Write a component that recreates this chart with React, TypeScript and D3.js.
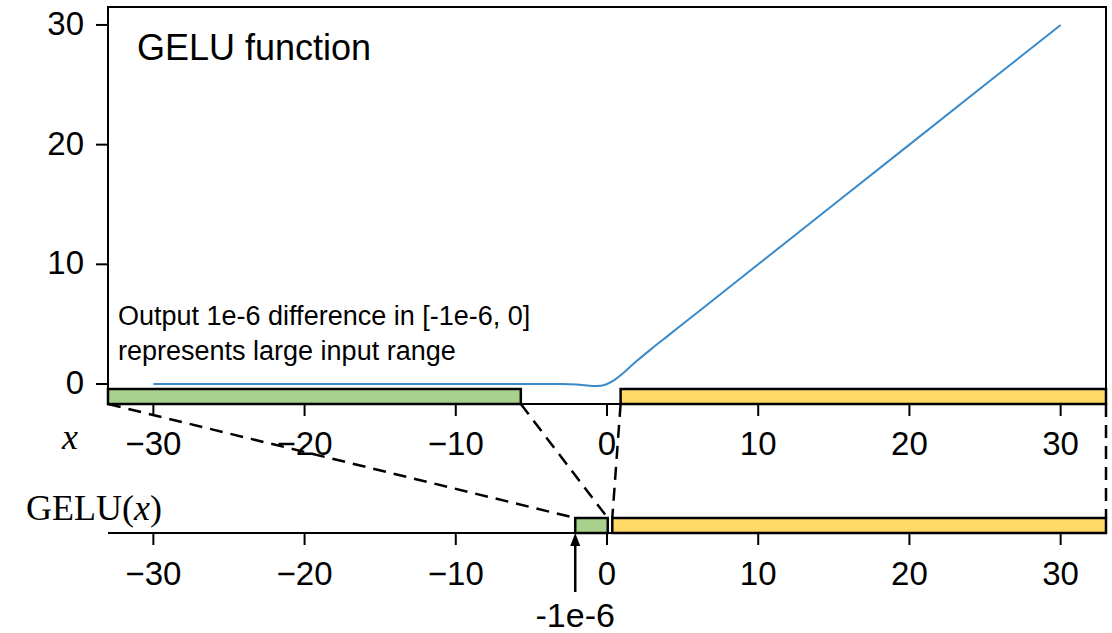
import * as d3 from 'd3'

// GELU curve
const curveX = [-30, -20, -10, -6, -4, -3, -2, -1.5, -1, -0.75, -0.5, -0.25, 0, 0.5, 1, 1.5, 2, 3, 4, 6, 10, 20, 30]
const curveY = [0, 0, 0, 0, -0.0001, -0.004, -0.045, -0.1, -0.159, -0.17, -0.154, -0.1, 0, 0.346, 0.841, 1.4, 1.955, 3, 4, 6, 10, 20, 30]

const xTicks = [-30, -20, -10, 0, 10, 20, 30]
const yTicks = [0, 10, 20, 30]

// input ranges (top) and the output ranges they map to (bottom)
const inputRanges = [[-33, -5.7], [0.9, 33]]
const outputRanges = [[-2.1, 0.05], [0.35, 33]]
const rangeColors = ['#a9d18e', '#ffd966']

const W = 1112
const H = 633
const left = 108
const right = 1106
const top = 7
const bottom = 404
const axis2Y = 533
const boxH = 15

const sans = '"Liberation Sans", Arial, Helvetica, sans-serif'
const serif = '"Liberation Serif", "Times New Roman", serif'

const fmt = (v: number) => (v < 0 ? '\u2212' + Math.abs(v) : String(v))

export default function App() {
  const x = d3.scaleLinear().domain([-33, 33]).range([left, right])
  const y = d3.scaleLinear().domain([-1.67, 31.5]).range([bottom, top])

  const pts: [number, number][] = curveX.map((v, i) => [v, curveY[i]])
  const line = d3.line<[number, number]>()
    .x(d => x(d[0]))
    .y(d => y(d[1]))
    .curve(d3.curveMonotoneX)

  const arrowX = x(outputRanges[0][0])

  return (
    <svg width={W} height={H} style={{position: 'absolute', left: 0, top: 0, background: '#fff'}}>
      {/* upper panel */}
      <path d={line(pts) || ''} fill="none" stroke="#3a8ac9" strokeWidth={2} />
      <rect x={left} y={top} width={right - left} height={bottom - top} fill="none" stroke="#000" strokeWidth={2} />
      {yTicks.map(t => (
        <g key={'y' + t}>
          <line x1={left - 12} x2={left} y1={y(t)} y2={y(t)} stroke="#000" strokeWidth={2} />
          <text x={84} y={y(t) + 10} textAnchor="end" fontFamily={sans} fontSize={33}>{t}</text>
        </g>
      ))}
      {xTicks.map(t => (
        <g key={'x' + t}>
          <line x1={x(t)} x2={x(t)} y1={bottom} y2={bottom + 12} stroke="#000" strokeWidth={2} />
          <text x={x(t)} y={455} textAnchor="middle" fontFamily={sans} fontSize={33}>{fmt(t)}</text>
        </g>
      ))}
      <text x={137} y={60} fontFamily={sans} fontSize={36}>GELU function</text>
      <text x={118} y={325} fontFamily={sans} fontSize={27}>Output 1e-6 difference in [-1e-6, 0]</text>
      <text x={118} y={360} fontFamily={sans} fontSize={27}>represents large input range</text>
      {inputRanges.map((r, i) => (
        <rect key={'in' + i} x={x(r[0])} y={bottom - boxH} width={x(r[1]) - x(r[0])} height={boxH}
          fill={rangeColors[i]} stroke="#000" strokeWidth={2.5} />
      ))}

      {/* lower axis */}
      <line x1={left} x2={right} y1={axis2Y} y2={axis2Y} stroke="#000" strokeWidth={1.8} />
      {xTicks.map(t => (
        <g key={'b' + t}>
          <line x1={x(t)} x2={x(t)} y1={axis2Y} y2={axis2Y + 12} stroke="#000" strokeWidth={2} />
          <text x={x(t)} y={585} textAnchor="middle" fontFamily={sans} fontSize={33}>{fmt(t)}</text>
        </g>
      ))}
      {outputRanges.map((r, i) => (
        <rect key={'out' + i} x={x(r[0])} y={axis2Y - boxH} width={x(r[1]) - x(r[0])} height={boxH}
          fill={rangeColors[i]} stroke="#000" strokeWidth={2.5} />
      ))}

      {/* dashed connectors */}
      {inputRanges.flatMap((r, i) => [0, 1].map(k => (
        <line key={'c' + i + k} x1={x(r[k])} y1={bottom} x2={x(outputRanges[i][k])} y2={axis2Y - boxH}
          stroke="#000" strokeWidth={2.5} strokeDasharray="13,8" />
      )))}

      {/* axis names */}
      <text x={70} y={449} textAnchor="middle" fontFamily={serif} fontStyle="italic" fontSize={36}>x</text>
      <text x={26} y={520} fontFamily={serif} fontSize={36}>GELU(<tspan fontStyle="italic">x</tspan>)</text>

      {/* arrow to -1e-6 */}
      <line x1={arrowX} x2={arrowX} y1={592} y2={axis2Y + 10} stroke="#000" strokeWidth={2.5} />
      <path d={`M${arrowX},${axis2Y} l-5,13 l10,0 z`} fill="#000" />
      <text x={arrowX} y={627} textAnchor="middle" fontFamily={sans} fontSize={34}>-1e-6</text>
    </svg>
  )
}
